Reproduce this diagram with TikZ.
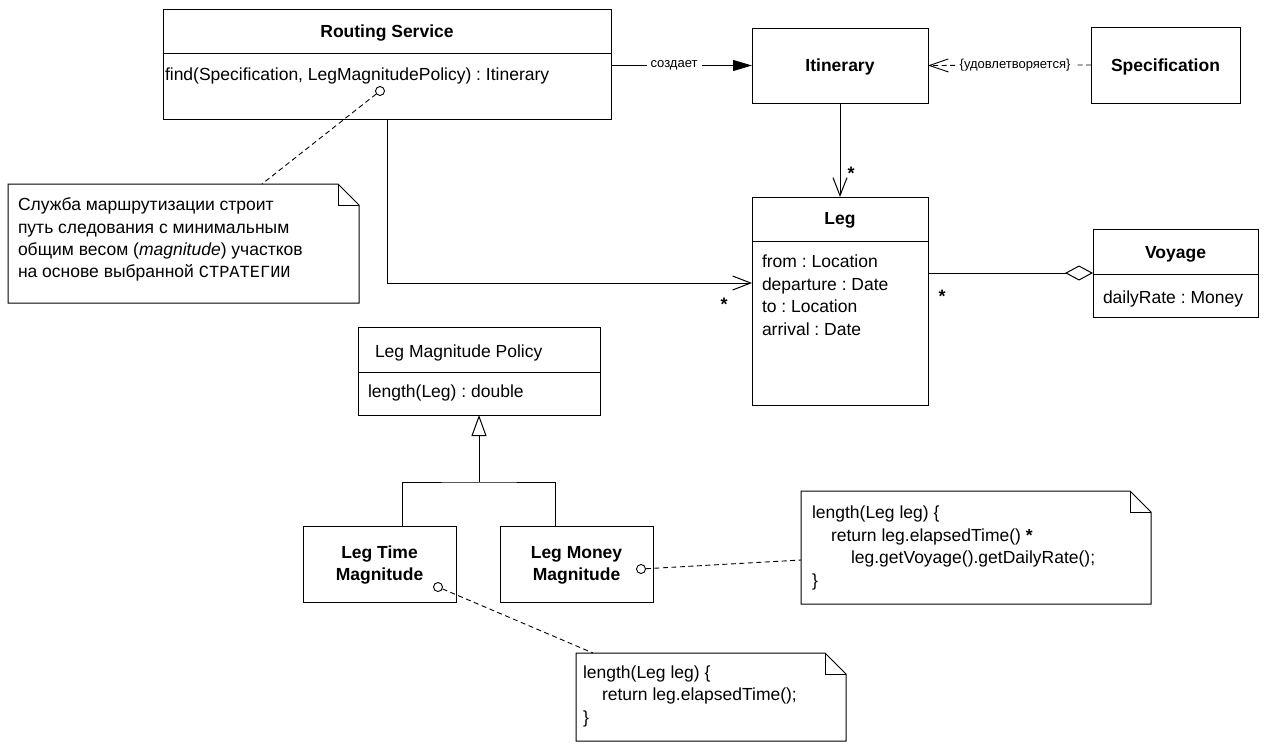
\documentclass[tikz,border=0pt]{standalone}
\usepackage{fontspec}
\setmainfont{Liberation Sans}
\newfontfamily\monocyr{Liberation Mono}
\usetikzlibrary{arrows.meta}
\frenchspacing
\newcommand\drawnote[1]{%
  \draw (#1.north west) -- ([xshift=-21pt]#1.north east) -- ([yshift=-21pt]#1.north east) -- (#1.south east) -- (#1.south west) -- cycle;
  \draw ([xshift=-21pt]#1.north east) |- ([yshift=-21pt]#1.north east);}
\begin{document}
\begin{tikzpicture}[x=1pt,y=-1pt,line width=1pt,
  box/.style={draw,line width=1pt,inner sep=0pt,outer sep=0pt,anchor=north west},
  ghost/.style={inner sep=0pt,outer sep=0pt,anchor=north west},
  txt/.style={inner sep=0pt,outer sep=0pt,anchor=base west,font=\fontsize{17.5}{22.6}\selectfont},
  ttl/.style={inner sep=0pt,outer sep=0pt,anchor=base,font=\fontsize{17.5}{22.6}\selectfont\bfseries},
  lab/.style={inner sep=4pt,fill=white,font=\fontsize{13}{15}\selectfont},
  mult/.style={inner sep=0pt,font=\fontsize{18}{20}\selectfont\bfseries},
  pin/.style={circle,draw,fill=white,line width=0.9pt,inner sep=0pt,minimum size=9pt},
  anchorline/.style={dash pattern=on 5pt off 3.5pt,line width=0.9pt},
  openarr/.style={-{Straight Barb[length=18pt,width=14pt]}},
]
\useasboundingbox (0,0) rectangle (1268,744);
\fill[white] (0,0) rectangle (1268,744);

% Routing Service
\node[box,minimum width=448pt,minimum height=110pt] (rs) at (163,9) {};
\draw ([yshift=-44pt]rs.north west) -- ([yshift=-44pt]rs.north east);
\node[ttl] (rst) at (387,37.5) {Routing Service};
\node[txt] (rsm) at (165,80) {find(Specification, LegMagnitudePolicy) : Itinerary};

% Itinerary
\node[box,minimum width=176pt,minimum height=75pt] (it) at (752,28) {};
\node[ttl] (itt) at (840,71) {Itinerary};

% Specification
\node[box,minimum width=149pt,minimum height=76pt] (sp) at (1091,27) {};
\node[ttl] (spt) at (1165.5,71) {Specification};

% Leg
\node[box,minimum width=176pt,minimum height=208pt] (leg) at (752,197) {};
\draw ([yshift=-44pt]leg.north west) -- ([yshift=-44pt]leg.north east);
\node[ttl] (legt) at (840,224) {Leg};
\node[txt] (la1) at (762,267) {from : Location};
\node[txt] (la2) at (762,290) {departure : Date};
\node[txt] (la3) at (762,312) {to : Location};
\node[txt] (la4) at (762,335) {arrival : Date};

% Voyage
\node[box,minimum width=165pt,minimum height=88pt] (vo) at (1093,229) {};
\draw ([yshift=-45pt]vo.north west) -- ([yshift=-45pt]vo.north east);
\node[ttl] (vot) at (1175.5,258) {Voyage};
\node[txt] (voa) at (1103,303) {dailyRate : Money};

% Leg Magnitude Policy
\node[box,minimum width=242pt,minimum height=88pt] (lmp) at (358,327) {};
\draw ([yshift=-45pt]lmp.north west) -- ([yshift=-45pt]lmp.north east);
\node[txt] (lmpt) at (375,357) {Leg Magnitude Policy};
\node[txt] (lmpm) at (368,397) {length(Leg) : double};

% Subclasses
\node[box,minimum width=153pt,minimum height=76pt] (lt) at (303,526) {};
\node[ttl] (lt1) at (379.5,558) {Leg Time};
\node[ttl] (lt2) at (379.5,580) {Magnitude};
\node[box,minimum width=153pt,minimum height=76pt] (lm) at (500,526) {};
\node[ttl] (lm1) at (576.5,558) {Leg Money};
\node[ttl] (lm2) at (576.5,580) {Magnitude};

% Notes
\node[ghost,minimum width=351pt,minimum height=119pt] (n1) at (8,184) {};
\drawnote{n1}
\node[txt] (n1a) at (18,210) {Служба маршрутизации строит};
\node[txt] (n1b) at (18,233) {путь следования с минимальным};
\node[txt] (n1c) at (18,255) {общим весом (\textit{magnitude}) участков};
\node[txt] (n1d) at (18,277) {на основе выбранной {\monocyr\fontsize{17}{22.6}\selectfont СТРАТЕГИИ}};

\node[ghost,minimum width=350pt,minimum height=113pt] (n3) at (801,491) {};
\drawnote{n3}
\node[txt] (n3a) at (812,518) {length(Leg leg) \{};
\node[txt] (n3b) at (831,541) {return leg.elapsedTime() \textbf{*}};
\node[txt] (n3c) at (851,563) {leg.getVoyage().getDailyRate();};
\node[txt] (n3d) at (812,586) {\}};

\node[ghost,minimum width=270pt,minimum height=88pt] (n2) at (576,653) {};
\drawnote{n2}
\node[txt] (n2a) at (583,678) {length(Leg leg) \{};
\node[txt] (n2b) at (602,700) {return leg.elapsedTime();};
\node[txt] (n2c) at (583,723) {\}};

% Connectors
\draw[-{Triangle[length=19pt,width=11pt]}] (rs.east |- it.west) -- node[lab,pos=0.447] (l1) {создает} (it.west);
\draw[anchorline,-{Straight Barb[length=19pt,width=13pt]}] (sp.west) -- node[lab,pos=0.466] (l2) {\{удовлетворяется\}} (it.east);
\draw[openarr] (it.south) -- (leg.north);
\node[mult] (m1) at (851,173.5) {*};
\draw[openarr] (rs.south) |- ([yshift=18pt]leg.west);
\node[mult] (m2) at (724,304.5) {*};
\draw[{Diamond[open,length=28pt,width=15pt]}-] (vo.west) -- (vo.west -| leg.east);
\node[mult] (m3) at (942,296.5) {*};

\coordinate (gj) at (479,482);
\draw ([xshift=22.5pt]lt.north) |- (gj) -| ([xshift=-21.5pt]lm.north);
\draw[-{Triangle[open,length=21pt,width=15pt,fill=white]}] (gj) -- (lmp.south);

% Note anchors
\node[pin] (p1) at (380,91) {};
\draw[anchorline] (p1) -- ([xshift=254pt]n1.north west);
\node[pin] (p2) at (438,587) {};
\draw[anchorline] (p2) -- ([xshift=17pt]n2.north west);
\node[pin] (p3) at (641,569) {};
\draw[anchorline] (p3) -- ([yshift=-69pt]n3.north west);
\end{tikzpicture}
\end{document}
